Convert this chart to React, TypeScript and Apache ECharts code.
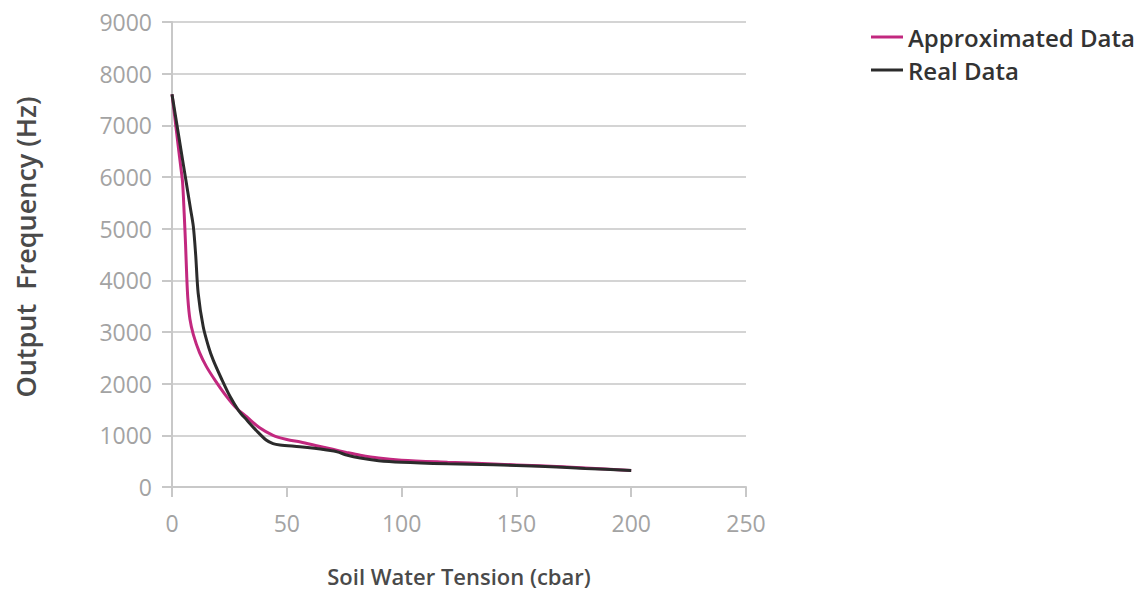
import React, { useEffect, useRef } from "react";
import * as echarts from "echarts";

const xTicks = [0, 50, 100, 150, 200, 250];

const approxX = [0, 1.5, 2.7, 3.8, 4.6, 5.3, 5.9, 6.4, 6.9, 7.8, 9.3, 12, 15, 19, 23.8, 28, 32.5, 38, 44, 50, 56, 63, 70, 76, 82, 90, 100, 120, 140, 160, 180, 200];
const approxY = [7600, 7050, 6600, 6200, 5900, 5300, 4700, 4100, 3650, 3250, 2950, 2600, 2330, 2050, 1750, 1530, 1360, 1150, 1000, 920, 870, 800, 730, 670, 615, 560, 520, 480, 445, 410, 370, 320];

const realX = [0, 2, 4, 6, 8, 9.3, 10.3, 11.4, 13.6, 16, 18, 21.5, 25.3, 29, 32.5, 37, 41, 44, 47, 55.7, 62, 67.4, 72, 76, 82, 90, 100, 120, 140, 160, 180, 200];
const realY = [7600, 7050, 6500, 5950, 5400, 5040, 4500, 3750, 3100, 2700, 2450, 2100, 1750, 1480, 1300, 1080, 910, 840, 813, 780, 750, 716, 680, 620, 560, 510, 480, 450, 430, 400, 360, 320];

const seriesNames = ["Approximated Data", "Real Data"];
const seriesColors = ["#c2287f", "#2b2b2b"];
const yTitle = "Output  Frequency (Hz)";
const xTitle = "Soil Water Tension (cbar)";

export default function App() {
  const ref = useRef<HTMLDivElement>(null);
  useEffect(() => {
    if (!ref.current) return;
    const chart = echarts.init(ref.current, undefined, { renderer: "svg" });
    const font = "'Open Sans', 'Noto Sans', sans-serif";
    chart.setOption({
      animation: false,
      textStyle: { fontFamily: font },
      grid: { left: 172, right: 400, top: 22, bottom: 109, containLabel: false },
      legend: {
        orient: "vertical",
        left: 866,
        top: 20,
        itemWidth: 32,
        itemHeight: 3,
        itemGap: 9,
        icon: "rect",
        textStyle: { fontSize: 24, fontWeight: 600, color: "#333333", fontFamily: font },
        data: seriesNames,
      },
      graphic: [
        {
          type: "text",
          x: 25,
          y: 247,
          rotation: Math.PI / 2,
          style: {
            text: yTitle,
            fontSize: 27,
            fontWeight: 600,
            fill: "#4a4a4a",
            fontFamily: font,
            align: "center",
            verticalAlign: "middle",
          },
        },
      ],
      xAxis: {
        type: "value",
        min: 0,
        max: 250,
        interval: 50,
        name: xTitle,
        nameLocation: "middle",
        nameGap: 78,
        nameTextStyle: { fontSize: 22, fontWeight: 600, color: "#4a4a4a", fontFamily: font },
        axisLine: { show: true, lineStyle: { color: "#c8c8c8", width: 2 } },
        axisTick: { show: true, length: 10, lineStyle: { color: "#c8c8c8", width: 2 } },
        axisLabel: { fontSize: 23, color: "#a3a3a3", margin: 24, customValues: xTicks },
        splitLine: { show: false },
      },
      yAxis: {
        type: "value",
        min: 0,
        max: 9000,
        interval: 1000,
        axisLine: { show: true, lineStyle: { color: "#c8c8c8", width: 2 } },
        axisTick: { show: true, inside: false, length: 10, lineStyle: { color: "#c8c8c8", width: 2 } },
        axisLabel: { fontSize: 23, color: "#a3a3a3", margin: 20, formatter: (v: number) => String(v) },
        splitLine: { show: true, lineStyle: { color: "#d4d4d4", width: 2 } },
      },
      series: [
        {
          name: seriesNames[0],
          type: "line",
          data: approxX.map((x, i) => [x, approxY[i]]),
          smooth: 0.3,
          showSymbol: false,
          symbol: "none",
          lineStyle: { color: seriesColors[0], width: 3 },
          itemStyle: { color: seriesColors[0] },
          z: 2,
        },
        {
          name: seriesNames[1],
          type: "line",
          data: realX.map((x, i) => [x, realY[i]]),
          smooth: 0.3,
          showSymbol: false,
          symbol: "none",
          lineStyle: { color: seriesColors[1], width: 3 },
          itemStyle: { color: seriesColors[1] },
          z: 3,
        },
      ],
    });
    return () => chart.dispose();
  }, []);
  return <div ref={ref} style={{ width: 1146, height: 596, margin: -8 }} />;
}
